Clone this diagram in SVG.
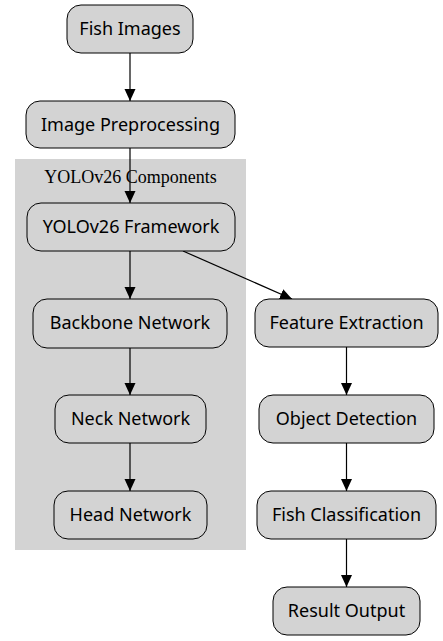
<svg xmlns="http://www.w3.org/2000/svg" width="443" height="641" viewBox="0 0 443 641">
<defs>
<style>
.n rect{fill:#d3d3d3;stroke:#000;stroke-width:1}
.n text{font-family:"Noto Sans","Open Sans",sans-serif;font-size:18px;text-anchor:middle;fill:#000}
.e{stroke:#000;stroke-width:1.2;fill:none}
.cl{font-family:"Liberation Serif",serif;font-size:18px;text-anchor:middle;fill:#000}
</style>
<marker id="ah" markerWidth="12" markerHeight="16" refX="12" refY="5.5" orient="auto" markerUnits="userSpaceOnUse" viewBox="0 0 12 11">
<path d="M0,0 L12,5.5 L0,11 Z" fill="#000"/>
</marker>
</defs>
<rect width="443" height="641" fill="#fff"/>
<g id="cluster">
<rect x="15" y="159" width="231" height="391" fill="#d3d3d3"/>
<text class="cl" x="130.5" y="183">YOLOv26 Components</text>
</g>
<g id="edges">
<line class="e" x1="130" y1="53" x2="130" y2="101" marker-end="url(#ah)"/>
<line class="e" x1="130" y1="148" x2="130" y2="203" marker-end="url(#ah)"/>
<line class="e" x1="130" y1="251" x2="130" y2="299" marker-end="url(#ah)"/>
<line class="e" x1="130" y1="348" x2="130" y2="395" marker-end="url(#ah)"/>
<line class="e" x1="130" y1="443" x2="130" y2="491" marker-end="url(#ah)"/>
<line class="e" x1="183" y1="251" x2="292" y2="299" marker-end="url(#ah)"/>
<line class="e" x1="346.5" y1="347" x2="346.5" y2="395" marker-end="url(#ah)"/>
<line class="e" x1="346.5" y1="443" x2="346.5" y2="491" marker-end="url(#ah)"/>
<line class="e" x1="346.5" y1="539" x2="346.5" y2="587" marker-end="url(#ah)"/>
</g>
<g id="fish-images" class="n"><rect x="67" y="5" width="126" height="48" rx="14"/><text x="130" y="35">Fish Images</text></g>
<g id="image-preprocessing" class="n"><rect x="26" y="101" width="209" height="47" rx="14"/><text x="130.5" y="130.5">Image Preprocessing</text></g>
<g id="yolo-framework" class="n"><rect x="27" y="203" width="208" height="48" rx="14"/><text x="131" y="233">YOLOv26 Framework</text></g>
<g id="backbone-network" class="n"><rect x="33" y="299" width="194" height="49" rx="14"/><text x="130" y="329">Backbone Network</text></g>
<g id="neck-network" class="n"><rect x="55" y="395" width="151" height="48" rx="14"/><text x="130.5" y="425">Neck Network</text></g>
<g id="head-network" class="n"><rect x="54" y="491" width="153" height="48" rx="14"/><text x="130.5" y="521">Head Network</text></g>
<g id="feature-extraction" class="n"><rect x="255" y="299" width="183" height="48" rx="14"/><text x="346.5" y="329">Feature Extraction</text></g>
<g id="object-detection" class="n"><rect x="259" y="395" width="175" height="48" rx="14"/><text x="346.5" y="425">Object Detection</text></g>
<g id="fish-classification" class="n"><rect x="257" y="491" width="179" height="48" rx="14"/><text x="346.5" y="521">Fish Classification</text></g>
<g id="result-output" class="n"><rect x="273" y="587" width="147" height="48" rx="14"/><text x="346.5" y="617">Result Output</text></g>
</svg>
